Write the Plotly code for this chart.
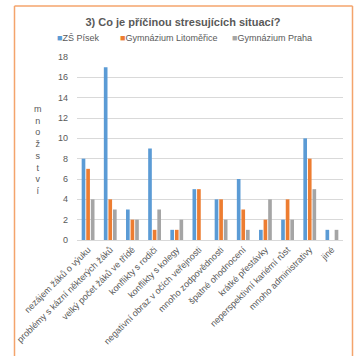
import plotly.graph_objects as go

categories = [
    "nezájem žáků o výuku",
    "problémy s kázní některých žáků",
    "velký počet žáků ve třídě",
    "konflikty s rodiči",
    "konflikty s kolegy",
    "negativní obraz v očích veřejnosti",
    "mnoho zodpovědnosti",
    "špatné ohodnocení",
    "krátké přestávky",
    "neperspektivní kariérní růst",
    "mnoho administrativy",
    "jiné",
]
zs_pisek = [8, 17, 3, 9, 1, 5, 4, 6, 1, 2, 10, 1]
gym_litomerice = [7, 4, 2, 1, 1, 5, 4, 3, 2, 4, 8, 0]
gym_praha = [4, 3, 2, 3, 2, 0, 2, 1, 4, 2, 5, 1]

series = [
    ("ZŠ Písek", zs_pisek, "#5B9BD5"),
    ("Gymnázium Litoměřice", gym_litomerice, "#ED7D31"),
    ("Gymnázium Praha", gym_praha, "#A5A5A5"),
]

fig = go.Figure()
for name, vals, col in series:
    fig.add_trace(go.Bar(name=name, x=categories, y=vals, marker=dict(color=col, line=dict(width=0)),
                         showlegend=False))

L, R, T, B = 77, 14, 57, 116
W, H = 357, 356
pw, ph = W - L - R, H - T - B

def px2paper_x(px):
    return (px - L) / pw

def px2paper_y(py):
    return (H - B - py) / ph

fig.update_layout(
    width=W, height=H,
    margin=dict(l=L, r=R, t=T, b=B, autoexpand=False),
    paper_bgcolor="white", plot_bgcolor="white",
    barmode="group", bargap=0.38, bargroupgap=0.2,
    font=dict(family="Liberation Sans, Arial, sans-serif", color="#595959", size=9),
    title=dict(text="<b>3) Co je příčinou stresujících situací?</b>", x=183 / W, xref="container", xanchor="center",
               y=1 - 22 / H, yref="container", yanchor="middle", font=dict(size=11, color="#595959")),
    showlegend=False,
)
fig.update_xaxes(tickangle=-45, tickfont=dict(size=9, color="#595959"), showline=True, linecolor="#d9d9d9",
                 ticks="", showgrid=False)
fig.update_yaxes(range=[0, 18], dtick=2, showgrid=True, gridcolor="#d9d9d9", gridwidth=1, zeroline=False,
                 tickfont=dict(size=9, color="#595959"), ticklabelstandoff=8)

# legend (drawn as text entries with coloured squares)
legend_x = [55, 118, 230]
for (name, vals, col), lx in zip(series, legend_x):
    fig.add_annotation(text=f'<span style="color:{col}">■</span>{name}', xref="paper", yref="paper",
                       x=px2paper_x(lx), y=px2paper_y(38), xanchor="left", yanchor="middle",
                       showarrow=False, font=dict(size=9, color="#595959"))

fig.add_annotation(text="<br>".join(list("množství")), xref="paper", yref="paper",
                   x=px2paper_x(32), y=px2paper_y(150), showarrow=False,
                   font=dict(size=9, color="#595959"), align="center")

border = dict(color="#F4A46C", width=1.5)
x_left, x_right, y_top, y_bot = 14.5, 352.5, 6, 370
fig.add_shape(type="line", xref="paper", yref="paper", x0=px2paper_x(x_left), x1=px2paper_x(x_right),
              y0=px2paper_y(y_top), y1=px2paper_y(y_top), line=border, layer="above")
fig.add_shape(type="line", xref="paper", yref="paper", x0=px2paper_x(x_left), x1=px2paper_x(x_left),
              y0=px2paper_y(y_top), y1=px2paper_y(y_bot), line=border, layer="above")
fig.add_shape(type="line", xref="paper", yref="paper", x0=px2paper_x(x_right), x1=px2paper_x(x_right),
              y0=px2paper_y(y_top), y1=px2paper_y(y_bot), line=border, layer="above")

fig.write_html("out.html", config={"displayModeBar": False})
